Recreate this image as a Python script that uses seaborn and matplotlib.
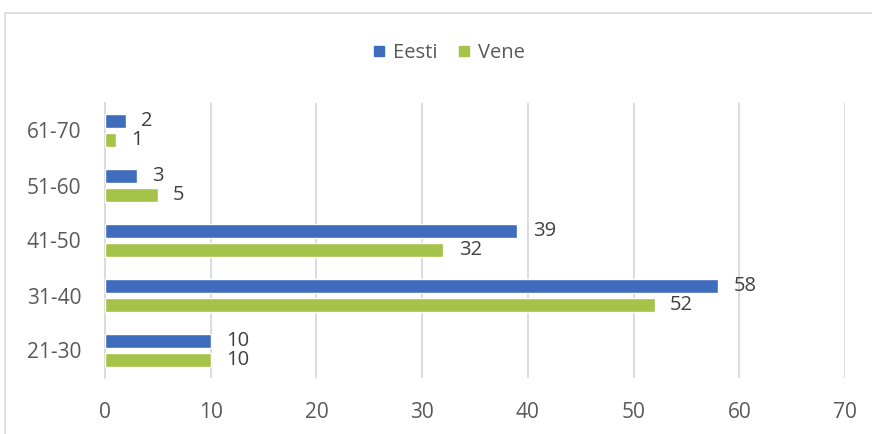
import matplotlib
matplotlib.use("Agg")
import matplotlib.pyplot as plt
from matplotlib.lines import Line2D
from matplotlib.patches import Rectangle
import seaborn as sns
import pandas as pd
import numpy as np

# Age groups, top to bottom as shown
age_groups = ["61-70", "51-60", "41-50", "31-40", "21-30"]
eesti = [2, 3, 39, 58, 10]
vene = [1, 5, 32, 52, 10]
series = ["Eesti", "Vene"]
colors = {"Eesti": "#3F6CBD", "Vene": "#A5C249"}

df = pd.DataFrame({
    "group": age_groups * 2,
    "value": eesti + vene,
    "series": ["Eesti"] * len(age_groups) + ["Vene"] * len(age_groups),
})

sns.set_style("white")
plt.rcParams["font.family"] = ["Open Sans", "DejaVu Sans"]

fig = plt.figure(figsize=(8.72, 4.34), dpi=100)
ax = fig.add_axes([105 / 872, 56 / 434, 740 / 872, 275 / 434])

sns.barplot(data=df, x="value", y="group", hue="series", order=age_groups,
            hue_order=series, palette=colors, orient="h", width=0.67, gap=0.24,
            saturation=1, ax=ax, legend=False, zorder=3)

for cont in ax.containers:
    ax.bar_label(cont, padding=11, fontsize=14.5, color="#404040")

ax.set_xlim(0, 70)
ax.set_xticks(np.arange(0, 71, 10))
ax.set_ylim(len(age_groups) - 0.5, -0.5)
ax.set_xlabel("")
ax.set_ylabel("")
ax.grid(axis="x", color="#D9D9D9", linewidth=1.3, zorder=0)
ax.set_axisbelow(True)

for s in ["top", "right", "bottom"]:
    ax.spines[s].set_visible(False)
ax.spines["left"].set_color("#D9D9D9")
ax.spines["left"].set_linewidth(1.3)

ax.tick_params(axis="x", length=0, pad=17, labelsize=15, labelcolor="#595959")
ax.tick_params(axis="y", which="major", length=0, pad=17, labelsize=15, labelcolor="#595959")
ax.set_yticks(np.arange(-0.5, len(age_groups), 1), minor=True)
ax.tick_params(axis="y", which="minor", length=5, width=1.3, color="#D9D9D9")

handles = [Line2D([], [], marker="s", linestyle="", markersize=7,
                  color=colors[s]) for s in series]
fig.legend(handles, series, loc="center", bbox_to_anchor=(0.515, 0.877), ncol=2,
           frameon=False, fontsize=14.5, handlelength=0.6, handletextpad=0.4,
           columnspacing=1.0, labelcolor="#595959")

fig.patches.append(Rectangle((5 / 872, -0.1), 1.2, (434 - 13) / 434 + 0.1,
                             transform=fig.transFigure, fill=False,
                             edgecolor="#D9D9D9", linewidth=1.2))

fig.savefig("out.png", dpi=100)
